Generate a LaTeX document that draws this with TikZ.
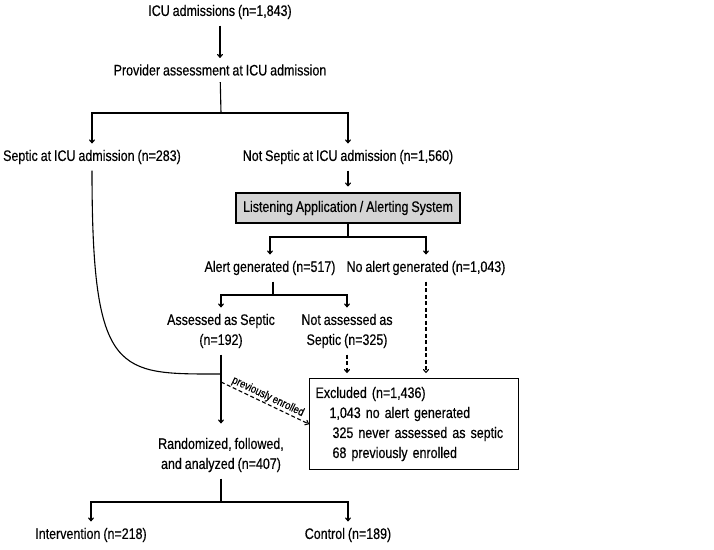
\documentclass[tikz,border=0pt]{standalone}
\usepackage{fontspec}
\setmainfont{Liberation Sans}[FakeStretch=0.82, FakeBold=0.4, WordSpace=0.85]
\usetikzlibrary{arrows.meta}

\tikzset{
    lbl/.style={inner sep=6pt, align=center},
    arr/.style={-{To[length=4pt,width=6pt]}},
    dasharr/.style={arr, dash pattern=on 4pt off 2.5pt},
    grbox/.style={draw, fill=black!17, minimum width=224, minimum height=30, inner sep=0pt},
    exbox/.style={draw, anchor=north west, text width=197, align=left, inner xsep=6pt, inner ysep=7pt, minimum height=91}
}

\begin{document}
\begin{tikzpicture}[x=1pt, y=-1pt, line width=1.1pt, font=\fontsize{15.2}{20}\selectfont]
    \useasboundingbox (0,0) rectangle (714,549);

    \node[lbl] (icu) at (220,12) {ICU admissions (n=1,843)};
    \node[lbl] (prov) at (220,70) {Provider assessment at ICU admission};
    \node[lbl] (sep) at (92,157) {Septic at ICU admission (n=283)};
    \node[lbl] (nsep) at (348,157) {Not Septic at ICU admission (n=1,560)};
    \node[grbox] (las) at (348,208) {Listening Application / Alerting System};
    \node[lbl] (alert) at (270,268) {Alert generated (n=517)};
    \node[lbl] (noalert) at (426,268) {No alert generated (n=1,043)};
    \node[lbl] (ass) at (221,331) {Assessed as Septic\\(n=192)};
    \node[lbl] (nass) at (347,331) {Not assessed as\\Septic (n=325)};
    \node[exbox] (excl) at (309,378) {Excluded (n=1,436)\\
        \hspace*{14pt}1,043 no alert generated\\
        \hspace*{17pt}325 never assessed as septic\\
        \hspace*{17pt}68 previously enrolled};
    \node[lbl] (rand) at (221,455) {Randomized, followed,\\and analyzed (n=407)};
    \node[lbl] (int) at (91,535) {Intervention (n=218)};
    \node[lbl] (ctrl) at (348,535) {Control (n=189)};

    % branch points
    \coordinate (b1) at (221,113);
    \coordinate (b2) at (348,237);
    \coordinate (b3) at (273,295);
    \coordinate (j) at (221,374);
    \coordinate (b4) at (221,502);

    \draw[arr] (icu) -- (prov);
    \draw (prov) -- (b1);
    \draw[arr] (b1) -| (sep);
    \draw[arr] (b1) -| (nsep);
    \draw[arr, shorten >=6pt] (nsep) -- (las);
    \draw (las) -- (b2);
    \draw[arr] (b2) -| (alert);
    \draw[arr] (b2) -| (noalert);
    \draw (alert.south -| b3) -- (b3);
    \draw[arr] (b3) -| (ass);
    \draw[arr] (b3) -| (nass);
    \draw[dasharr, shorten >=5pt] (nass) -- (nass |- excl.north);
    \draw[dasharr, shorten >=5pt] (noalert) -- (noalert |- excl.north);

    \draw (sep) to [out=-90,in=180,out looseness=2.2,in looseness=1.1] (j);
    \draw (ass) -- (j);
    \draw[arr, shorten >=8pt] (j) -- (rand);
    \draw[dasharr] ([yshift=-8pt]j) -- (excl.west)
        node[midway, sloped, above, inner sep=1pt, font=\fontsize{11.5}{13}\selectfont] {previously enrolled};

    \draw (rand) -- (b4);
    \draw[arr] (b4) -| (int);
    \draw[arr] (b4) -| (ctrl);
\end{tikzpicture}
\end{document}
